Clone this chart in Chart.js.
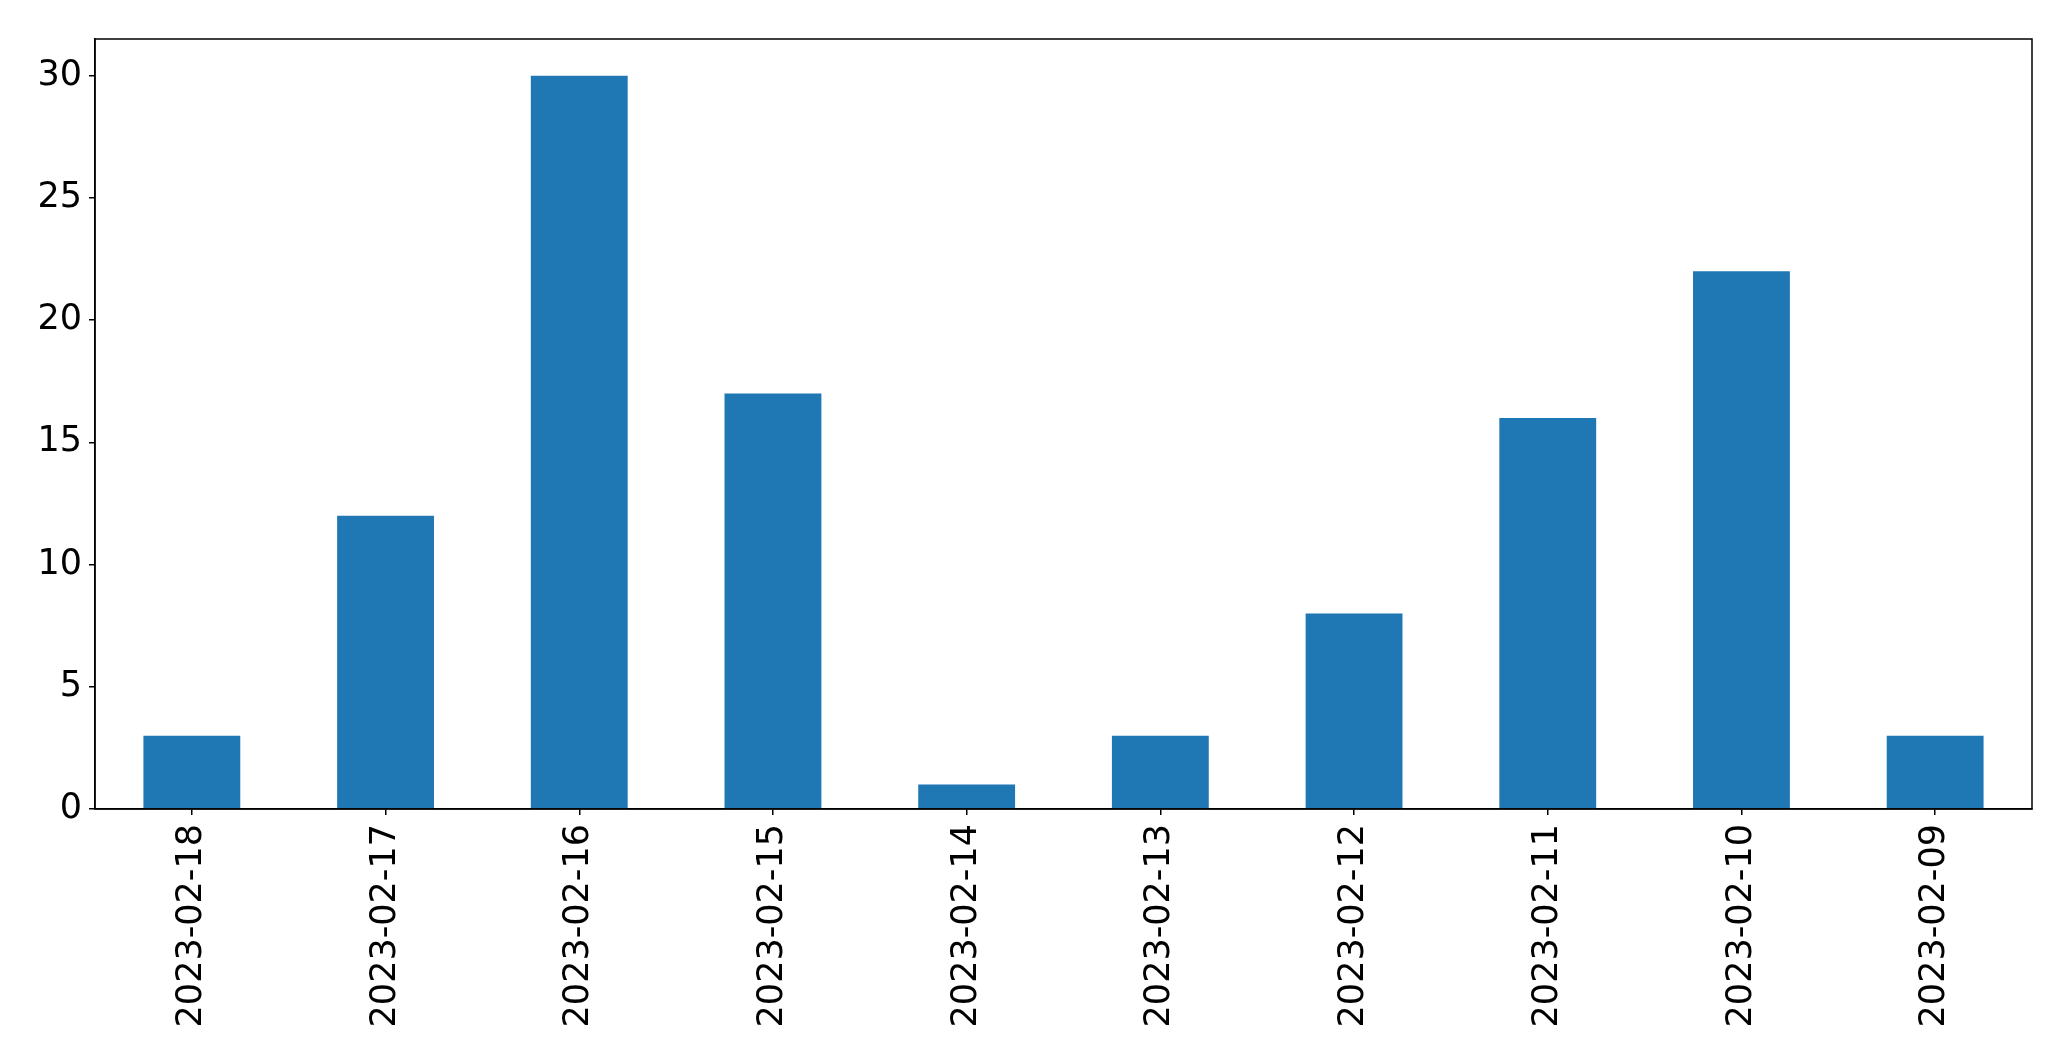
<!DOCTYPE html>
<html>
<head>
<meta charset="utf-8">
<script src="https://cdn.jsdelivr.net/npm/chart.js@4/dist/chart.umd.min.js"></script>
<style>
html,body{margin:0;padding:0;background:#fff;}
canvas{display:block;}
</style>
</head>
<body>
<canvas id="c" width="2071" height="1061"></canvas>
<script>
const categories = ["2023-02-18","2023-02-17","2023-02-16","2023-02-15","2023-02-14","2023-02-13","2023-02-12","2023-02-11","2023-02-10","2023-02-09"];
const values = [3,12,30,17,1,3,8,16,22,3];
const yTicks = [0,5,10,15,20,25,30];

const frame = {
  id:'frame',
  afterDraw(chart){
    const a = chart.chartArea, ctx = chart.ctx;
    ctx.save();
    ctx.strokeStyle='#000';
    ctx.lineWidth=1.5;
    ctx.strokeRect(a.left, a.top, a.right-a.left, a.bottom-a.top);
    ctx.restore();
  }
};

new Chart(document.getElementById('c'), {
  type:'bar',
  data:{labels:categories, datasets:[{data:values, backgroundColor:'#1f77b4', barPercentage:0.5, categoryPercentage:1.0}]},
  options:{
    responsive:false, animation:false,
    layout:{padding:{top:39, right:39, left:0, bottom:0}},
    plugins:{legend:{display:false}, tooltip:{enabled:false}},
    scales:{
      x:{
        offset:true,
        grid:{display:true, offset:false, drawOnChartArea:false, drawTicks:true, tickLength:6, color:'#000', lineWidth:1.5},
        border:{display:true, color:'#000', width:1.5},
        ticks:{color:'#000', font:{family:'DejaVu Sans', size:35}, maxRotation:90, minRotation:90, padding:9, autoSkip:false},
        afterFit(s){ s.height = 1061-809; }
      },
      y:{
        min:0, max:31.5,
        afterBuildTicks(s){ s.ticks = yTicks.map(v=>({value:v})); },
        grid:{display:true, drawOnChartArea:false, drawTicks:true, tickLength:6, color:'#000', lineWidth:1.5},
        border:{display:true, color:'#000', width:1.5},
        ticks:{color:'#000', font:{family:'DejaVu Sans', size:35}, padding:7},
        afterFit(s){ s.width = 95; }
      }
    }
  },
  plugins:[frame]
});
</script>
</body>
</html>
